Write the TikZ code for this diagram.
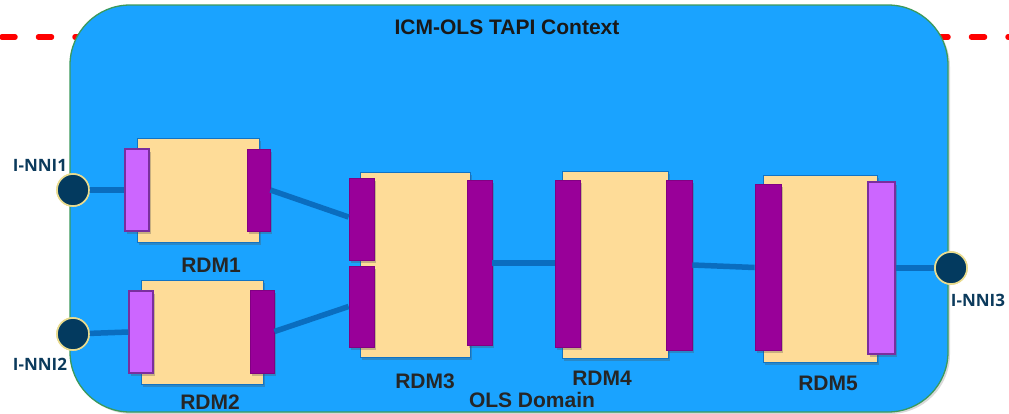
\documentclass[tikz,border=0pt]{standalone}
\usepackage{fontspec}
\setmainfont{Liberation Sans}
\newfontfamily\nnifont{Open Sans}
\usetikzlibrary{shadows,calc}

\definecolor{ctxblue}{HTML}{1AA3FF}
\definecolor{ctxedge}{HTML}{3C9A5C}
\definecolor{linkblue}{HTML}{0A6DBF}
\definecolor{boxfill}{HTML}{FEDC98}
\definecolor{boxedge}{HTML}{1173C4}
\definecolor{portdark}{HTML}{990099}
\definecolor{portlight}{HTML}{CC66FF}
\definecolor{portedge}{HTML}{7A2E9E}
\definecolor{nnifill}{HTML}{033A5F}
\definecolor{nniedge}{HTML}{E9DB8E}
\definecolor{nnitext}{HTML}{0B3A5C}
\definecolor{labeltext}{HTML}{262626}
\definecolor{dashred}{HTML}{FF0000}

\tikzset{
  softshadow/.style={drop shadow={shadow xshift=2pt, shadow yshift=-3pt, opacity=0.3, fill=black!70}},
  rdmbox/.style={draw=boxedge, fill=boxfill, line width=1pt, inner sep=0pt, softshadow},
  portdk/.style={draw=portdark!85!black, fill=portdark, line width=0.8pt, inner sep=0pt, minimum width=24pt, softshadow},
  portlt/.style={draw=portedge, fill=portlight, line width=1.2pt, inner sep=0pt, minimum width=24pt, softshadow},
  nni/.style={circle, draw=nniedge, fill=nnifill, line width=1.6pt, minimum size=32pt, inner sep=0pt},
  link/.style={draw=linkblue, line width=5.5pt},
  rdmlabel/.style={text=labeltext, font=\fontsize{21}{23}\selectfont\bfseries, inner sep=0pt},
  nnilabel/.style={text=nnitext, font=\nnifont\fontsize{17}{19}\selectfont\bfseries, inner sep=0pt},
  reddash/.style={draw=dashred, line width=5.5pt, dash pattern=on 13pt off 23.5pt, line cap=round},
}

\begin{document}
\begin{tikzpicture}[x=1pt, y=-1pt]
\useasboundingbox (0,0) rectangle (1009,413);
\clip (0,0) rectangle (1009,413);

% red dashed boundary on both sides of the context
\coordinate (dashL0) at (2,37);
\coordinate (dashL1) at (90,37);
\coordinate (dashR0) at (935,37);
\coordinate (dashR1) at (1015,37);
\draw[reddash] (dashL0) -- (dashL1);
\draw[reddash] (dashR0) -- (dashR1);

% context area
\node (ctx) [draw=ctxedge, fill=ctxblue, line width=1.3pt, rounded corners=60pt,
  minimum width=878pt, minimum height=407pt, inner sep=0pt,
  drop shadow={shadow xshift=2pt, shadow yshift=-2pt, opacity=0.25, fill=black!60}] at (509,208.5) {};
\node (title) [text=black!90, font=\fontsize{21}{23}\selectfont\bfseries, inner sep=0pt] at (507,27.5) {ICM-OLS TAPI Context};

% I-NNI endpoints
\node (n1) [nni] at (73,190) {};
\node (n2) [nni] at (73,334) {};
\node (n3) [nni] at (951,268) {};

% RDM boxes
\node (r1) [rdmbox, minimum width=122pt, minimum height=104pt] at (198,190) {};
\node (r2) [rdmbox, minimum width=122pt, minimum height=104pt] at (202,332) {};
\node (r3) [rdmbox, minimum width=110pt, minimum height=185pt] at (415,264.5) {};
\node (r4) [rdmbox, minimum width=106pt, minimum height=187pt] at (615,264.5) {};
\node (r5) [rdmbox, minimum width=114pt, minimum height=187pt] at (820,268.5) {};

% ports
\node (p1l) [portlt, minimum height=82pt] at (137,190) {};
\node (p1r) [portdk, minimum width=23pt, minimum height=82pt] at (258.5,190) {};
\node (p2l) [portlt, minimum height=82pt] at (141,332) {};
\node (p2r) [portdk, minimum height=83pt] at (262,331.5) {};
\node (p3a) [portdk, minimum width=25pt, minimum height=82pt] at (361.5,219) {};
\node (p3b) [portdk, minimum width=25pt, minimum height=81pt] at (361.5,306.5) {};
\node (p3r) [portdk, minimum width=25pt, minimum height=165pt] at (479.5,262.5) {};
\node (p4l) [portdk, minimum width=25pt, minimum height=167pt] at (567.5,263.5) {};
\node (p4r) [portdk, minimum width=26pt, minimum height=170pt] at (679,265) {};
\node (p5l) [portdk, minimum width=26pt, minimum height=166pt] at (768,267) {};
\node (p5r) [portlt, minimum width=27pt, minimum height=172pt] at (881.5,268) {};

% links between endpoints and ports
\path[link] (n1.center) -- (p1l.west);
\path[link] (p1r.east) -- ([yshift=2pt]p3a.west);
\path[link] (n2.center) -- (p2l.west);
\path[link] (p2r.east) -- (p3b.west);
\path[link] ([yshift=-0.5pt]p3r.east) -- ([yshift=0.5pt]p4l.west);
\path[link] (p4r.east) -- ([yshift=-0.5pt]p5l.west);
\path[link] (p5r.east) -- (n3.west);

% endpoints drawn again above the links
\node (n1top) [nni] at (n1) {};
\node (n2top) [nni] at (n2) {};
\node (n3top) [nni] at (n3) {};

% labels
\node (l1) [rdmlabel] at (211,265) {RDM1};
\node (l2) [rdmlabel] at (210,402) {RDM2};
\node (l3) [rdmlabel] at (425,381) {RDM3};
\node (l4) [rdmlabel] at (602,378) {RDM4};
\node (l5) [rdmlabel] at (828,383) {RDM5};
\node (dom) [rdmlabel] at (532,400) {OLS Domain};
\node (t1) [nnilabel] at (40,165) {I-NNI1};
\node (t2) [nnilabel] at (40,364) {I-NNI2};
\node (t3) [nnilabel] at (978,300) {I-NNI3};
\end{tikzpicture}
\end{document}
